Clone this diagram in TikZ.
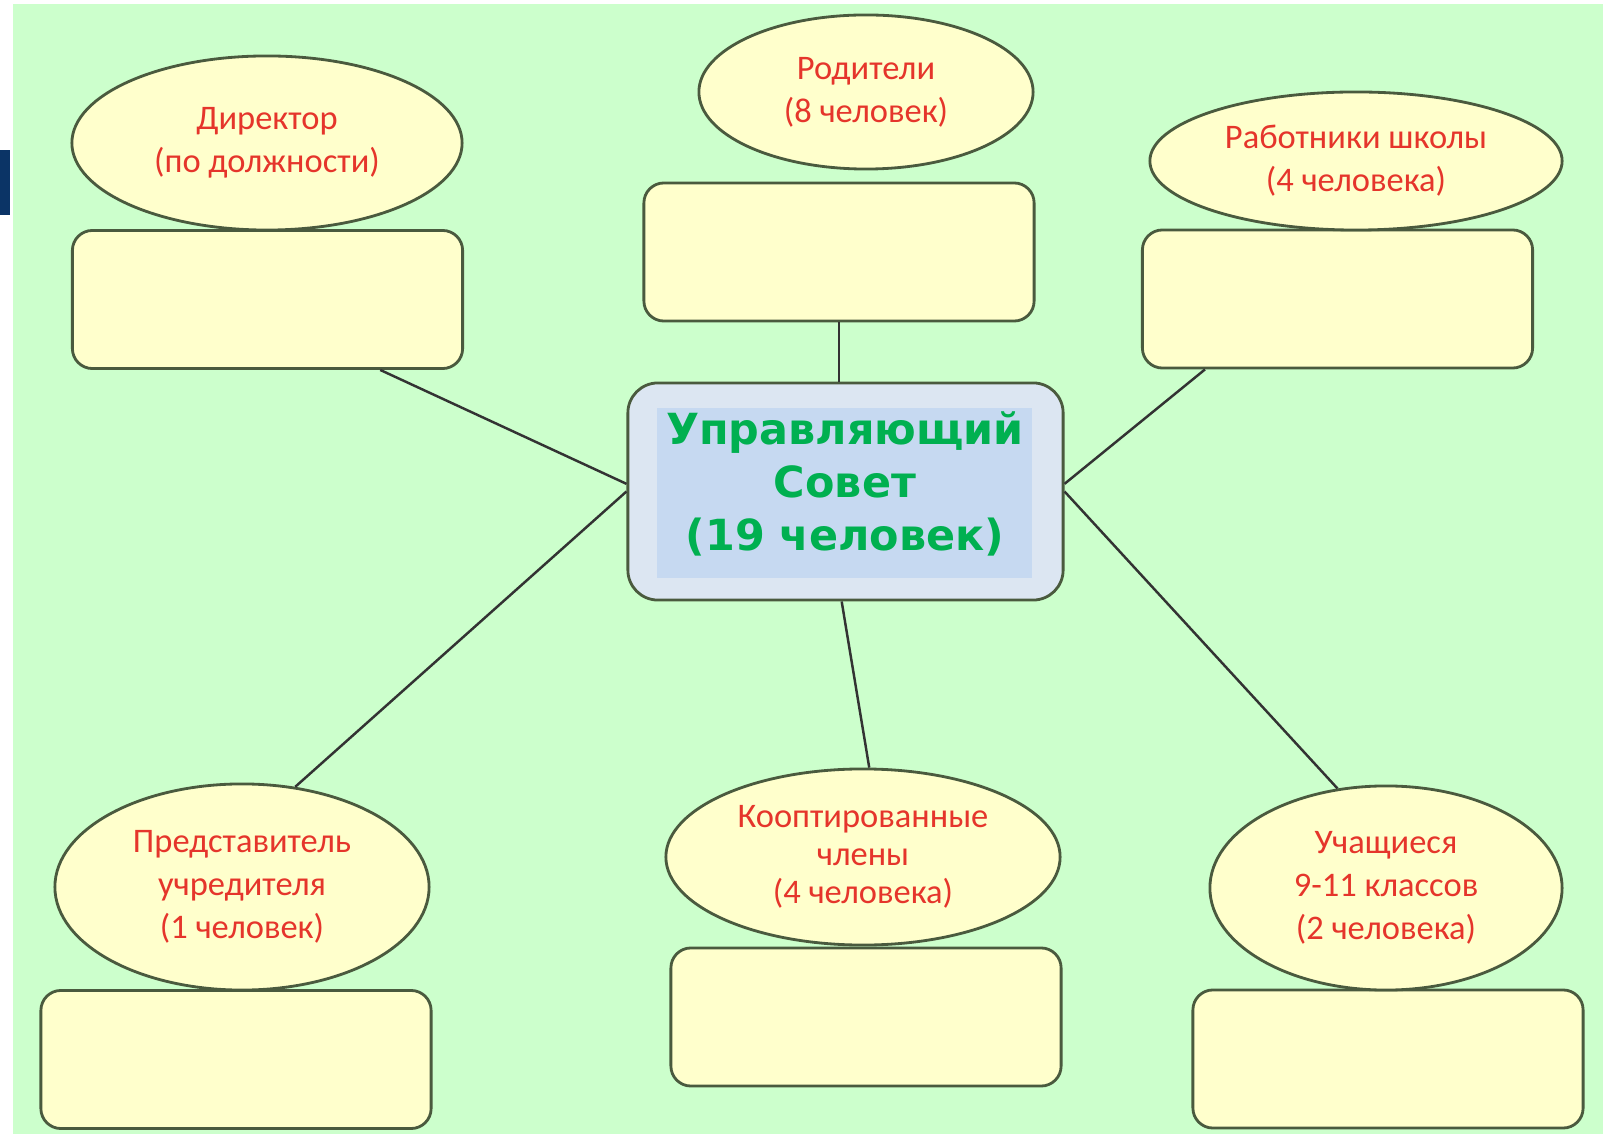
\documentclass[tikz,border=0pt]{standalone}
\usepackage{fontspec}
\setmainfont{Carlito}
\newfontfamily\verdanalike{DejaVu Sans}
\usetikzlibrary{shapes.geometric}
\definecolor{bggreen}{HTML}{CCFFCC}
\definecolor{paleyellow}{HTML}{FFFFCC}
\definecolor{outline}{HTML}{4A5A3E}
\definecolor{labelred}{HTML}{E5352B}
\definecolor{councilgreen}{HTML}{00B050}
\definecolor{councilfill}{HTML}{DCE6F2}
\definecolor{councilinner}{HTML}{C6D9F1}
\definecolor{navybar}{HTML}{0B3466}

\begin{document}
\begin{tikzpicture}[x=0.01cm, y=-0.01cm,
    group/.style={ellipse, draw=outline, fill=paleyellow, line width=0.8pt,
        text=labelred, align=center, inner sep=0pt,
        font=\fontsize{9.8}{12.3}\selectfont},
    seatbox/.style={rectangle, rounded corners=0.2cm, draw=outline, fill=paleyellow,
        line width=0.8pt, minimum width=3.9cm, minimum height=1.38cm, inner sep=0pt},
    link/.style={draw=black!80, line width=0.7pt}]
    % page and background
    \useasboundingbox[fill=white] (0,0) rectangle (1612,1134);
    \fill[bggreen] (13,4) rectangle (1603,1134);
    \fill[navybar] (0,150) rectangle (10,215);

    % Council in the middle
    \node[rectangle, rounded corners=0.3cm, draw=outline, fill=councilfill, line width=0.8pt,
        minimum width=4.35cm, minimum height=2.17cm] (council) at (845.5,491.5) {};
    \node[rectangle, fill=councilinner, minimum width=3.75cm, minimum height=1.7cm,
        inner sep=0pt] (inner) at (844.5,493) {};
    \node[text=councilgreen, align=center, font=\verdanalike\bfseries\fontsize{12.2}{15}\selectfont]
        (title) at (845,484) {Управляющий\\Совет\\(19 человек)};

    % Director
    \node[seatbox] (dirbox) at (267.5,299.5) {};
    \node[group, minimum width=3.9cm, minimum height=1.74cm] (director) at (267,143)
        {Директор\\(по должности)};

    % Parents
    \node[seatbox] (parbox) at (839,252) {};
    \node[group, minimum width=3.34cm, minimum height=1.54cm] (parents) at (866,92)
        {Родители\\(8 человек)};

    % School staff
    \node[seatbox] (staffbox) at (1337.5,299) {};
    \node[group, minimum width=4.12cm, minimum height=1.38cm] (staff) at (1356,161)
        {Работники школы\\(4 человека)};

    % Founder
    \node[seatbox] (foundbox) at (236,1059.5) {};
    \node[group, minimum width=3.74cm, minimum height=2.06cm] (founder) at (242,887)
        {Представитель\\учредителя\\(1 человек)};

    % Co-opted members
    \node[seatbox] (coopbox) at (866,1017) {};
    \node[group, minimum width=3.94cm, minimum height=1.76cm,
        font=\fontsize{9.8}{10.9}\selectfont] (coopted) at (863,857)
        {Кооптированные\\члены\\(4 человека)};

    % Pupils
    \node[seatbox] (pupbox) at (1388,1059) {};
    \node[group, minimum width=3.52cm, minimum height=2.04cm] (pupils) at (1386,888)
        {Учащиеся\\9-11 классов\\(2 человека)};

    % links
    \draw[link] (dirbox.-32) -- (council.178);
    \draw[link] (parbox.south) -- (parbox.south |- council.north);
    \draw[link] (staffbox.-152) -- (council.2);
    \draw[link] (founder.62) -- (council.west);
    \draw[link] (coopted.86) -- (council.-92);
    \draw[link] (pupils.116) -- (council.east);
\end{tikzpicture}
\end{document}
